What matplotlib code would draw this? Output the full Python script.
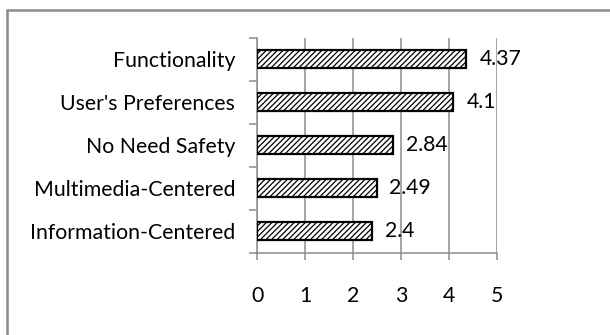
import numpy as np
import matplotlib
matplotlib.use("Agg")
import matplotlib.pyplot as plt
from matplotlib.patches import Rectangle

# categories, bottom to top
categories = ["Information-Centered", "Multimedia-Centered", "No Need Safety",
              "User's Preferences", "Functionality"]
scores = [2.4, 2.49, 2.84, 4.1, 4.37]
score_labels = ["2.4", "2.49", "2.84", "4.1", "4.37"]
x_ticks = [0, 1, 2, 3, 4, 5]

plt.rcParams['font.family'] = ['Lato', 'DejaVu Sans']
plt.rcParams['hatch.linewidth'] = 0.9
plt.rcParams['hatch.color'] = '#303030'

fig = plt.figure(figsize=(6.1, 3.35), dpi=100)
ax = fig.add_axes([0.422, 0.245, 0.392, 0.642])

grid_col = '#8c8c8c'
fs = 15.3
y = np.arange(len(categories))

ax.barh(y, scores, height=0.42, color='white', edgecolor='black',
        linewidth=1.6, hatch='//////', zorder=3)

for yi, v, lab in zip(y, scores, score_labels):
    ax.text(v + 0.27, yi, lab, va='center', ha='left', fontsize=fs, zorder=4)

ax.set_xlim(0, 5)
ax.set_ylim(-0.5, len(categories) - 0.5)
ax.set_xticks(x_ticks)
ax.set_xticklabels([str(t) for t in x_ticks], fontsize=fs)
ax.set_yticks(y)
ax.set_yticklabels(categories, fontsize=fs)
ax.set_yticks(np.arange(-0.5, len(categories), 1.0), minor=True)

ax.tick_params(axis='y', which='major', length=0, pad=16)
ax.tick_params(axis='y', which='minor', length=6, width=1.1, color=grid_col)
ax.tick_params(axis='x', which='major', length=5, width=1.1, color=grid_col, pad=19)

ax.grid(axis='x', color=grid_col, linewidth=1.1, zorder=0)
for side in ['top', 'right']:
    ax.spines[side].set_visible(False)
for side in ['left', 'bottom']:
    ax.spines[side].set_color(grid_col)
    ax.spines[side].set_linewidth(1.1)

# chart frame
fig.add_artist(Rectangle((7 / 610, -0.2), 1.2, 1.2 - 10 / 335,
                         transform=fig.transFigure, fill=False,
                         edgecolor='#8c8c8c', linewidth=1.8))

fig.savefig("out.png", dpi=100)
